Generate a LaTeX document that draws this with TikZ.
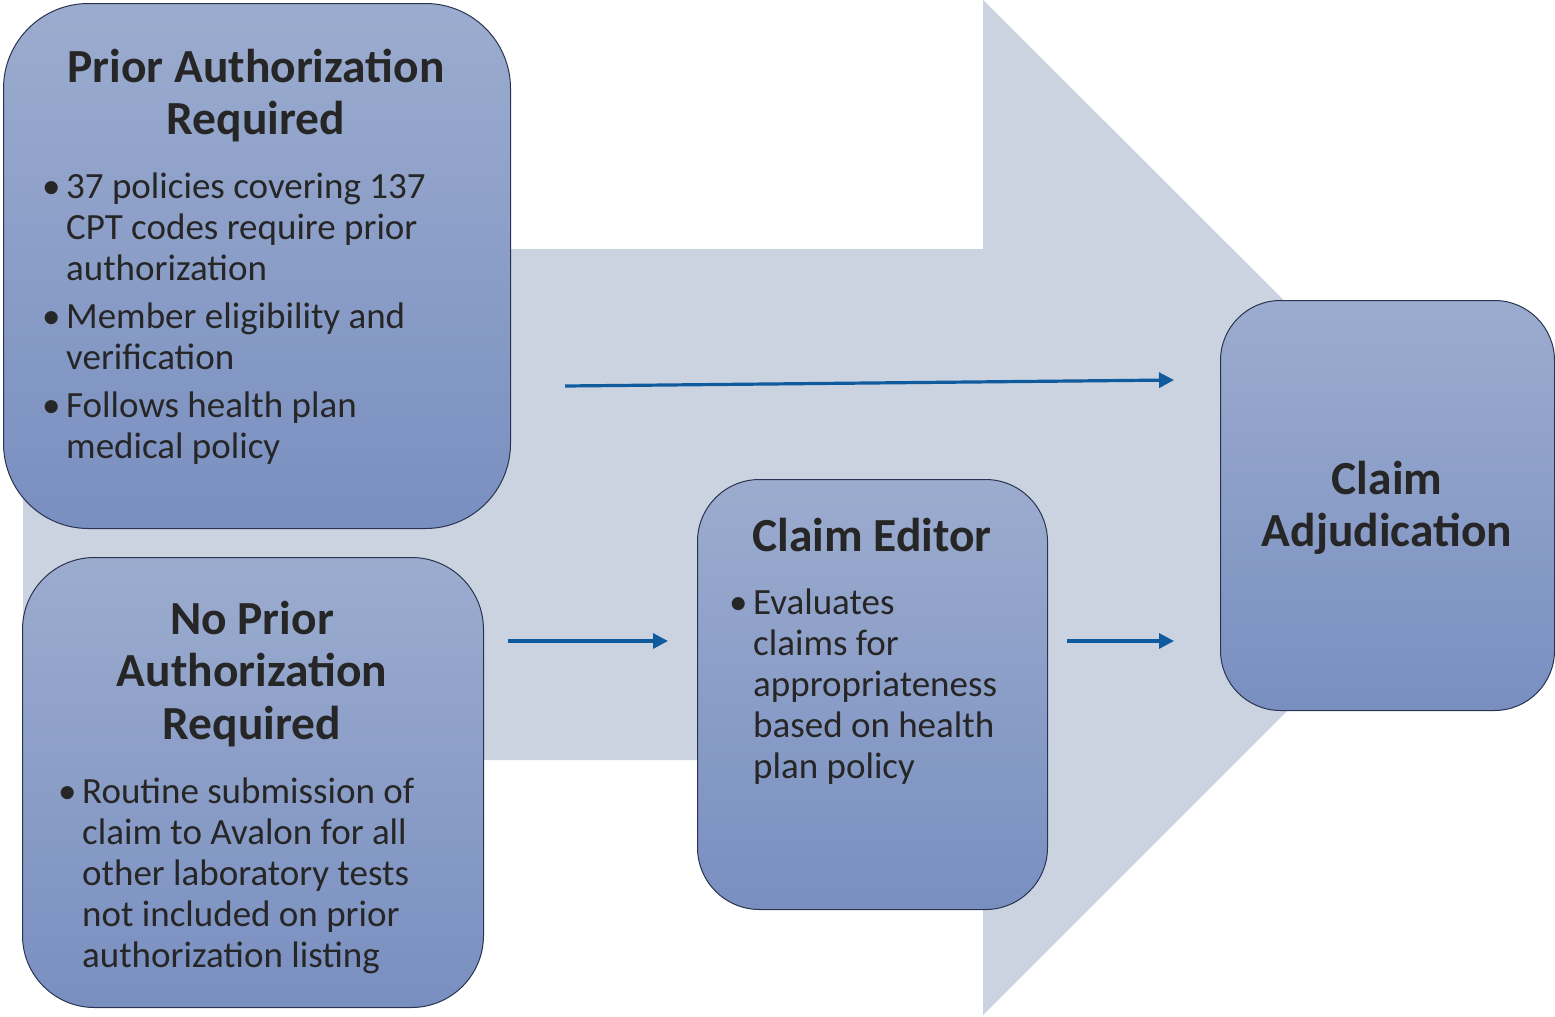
\documentclass[tikz,border=0pt]{standalone}
\usepackage{fontspec}
\setmainfont{Carlito}
\usetikzlibrary{arrows.meta}
\definecolor{shaftc}{RGB}{203,211,225}
\definecolor{boxtop}{RGB}{156,172,207}
\definecolor{boxbot}{RGB}{121,143,192}
\definecolor{boxedge}{RGB}{40,52,80}
\definecolor{arrc}{RGB}{16,90,158}
\definecolor{txt}{RGB}{38,38,38}
\newcommand\bul{\leavevmode\llap{\makebox[24pt][l]{•}}}
\newcommand\ttlfont{\fontsize{47.5}{52.5}\selectfont\bfseries}
\newcommand\bdyfont{\fontsize{37}{41}\selectfont}
\begin{document}
\begin{tikzpicture}[x=1pt,y=-1pt,
  box/.style={draw=boxedge, line width=1pt, top color=boxtop, bottom color=boxbot, inner sep=0pt, rectangle, anchor=north west},
  flow/.style={draw=arrc, line width=3.2pt, -{Triangle[length=15pt,width=15pt]}},
  ttl/.style={inner sep=0pt, text=txt, font=\ttlfont, anchor=base},
  bdy/.style={inner sep=0pt, text=txt, font=\bdyfont, anchor=base west}]
\useasboundingbox (0,0) rectangle (1555,1017);
% big background arrow
\fill[shaftc] (23,249) -- (983,249) -- (983,0) -- (1491,507) -- (983,1015) -- (983,760) -- (23,760) -- cycle;
% boxes
\node[box, rounded corners=85pt, minimum width=507pt, minimum height=525pt] (pa) at (3,3) {};
\node[box, rounded corners=72pt, minimum width=461pt, minimum height=450pt] (npa) at (22,557) {};
\node[box, rounded corners=62pt, minimum width=350pt, minimum height=430pt] (ce) at (697,479) {};
\node[box, rounded corners=60pt, minimum width=334pt, minimum height=410pt] (ca) at (1220,300) {};
% texts
\node[ttl] (pat) at (256,82) {\parbox[t]{500pt}{\centering Prior Authorization\\Required}};
\node[bdy] (pab) at (42,198) {\parbox[t]{470pt}{\hangindent=24pt\hangafter=0\noindent
  \bul 37 policies covering 137\\CPT codes require prior\\authorization\\[7pt]
  \bul Member eligibility and\\verification\\[7pt]
  \bul Follows health plan\\medical policy}};
\node[ttl] (npat) at (252,634) {\parbox[t]{450pt}{\centering No Prior\\Authorization\\Required}};
\node[bdy] (npab) at (58,803) {\parbox[t]{430pt}{\hangindent=24pt\hangafter=0\noindent
  \bul Routine submission of\\claim to Avalon for all\\other laboratory tests\\not included on prior\\authorization listing}};
\node[ttl] (cet) at (872,551) {\parbox[t]{340pt}{\centering Claim Editor}};
\node[bdy] (ceb) at (729,614) {\parbox[t]{320pt}{\hangindent=24pt\hangafter=0\noindent
  \bul Evaluates\\claims for\\appropriateness\\based on health\\plan policy}};
\node[ttl] (cat) at (1387,494) {\parbox[t]{330pt}{\centering Claim\\Adjudication}};
% connectors
\coordinate (a1s) at (565,386); \coordinate (a1e) at (1174,380);
\coordinate (a2s) at (508,641); \coordinate (a2e) at (668,641);
\coordinate (a3s) at (1067,641); \coordinate (a3e) at (1174,641);
\draw[flow] (a1s) -- (a1e);
\draw[flow] (a2s) -- (a2e);
\draw[flow] (a3s) -- (a3e);
\end{tikzpicture}
\end{document}
